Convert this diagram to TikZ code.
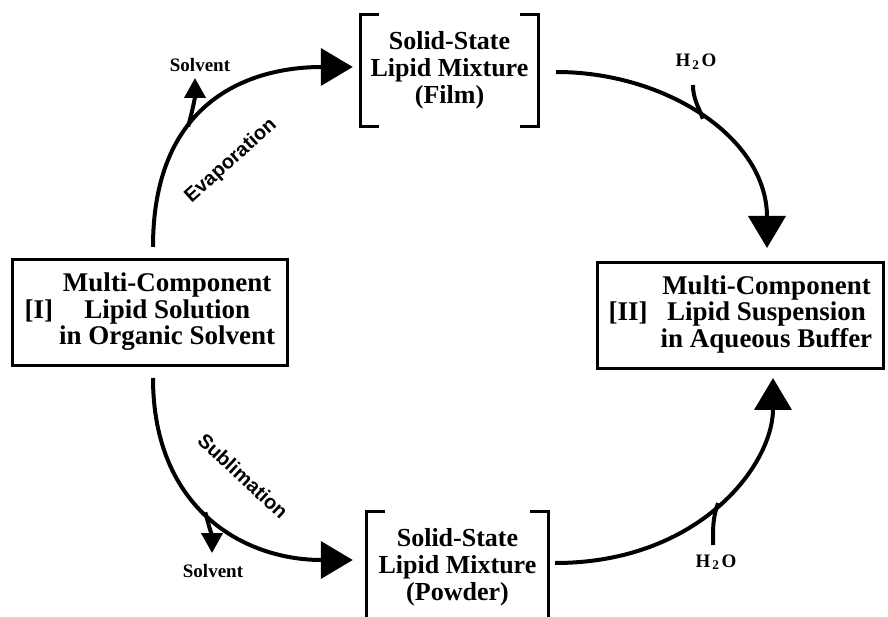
\documentclass[tikz,border=0pt]{standalone}
\usepackage{fontspec}
\setmainfont{Liberation Serif}
\setsansfont{Liberation Sans}
\usetikzlibrary{arrows.meta,positioning}

\tikzset{
  stage/.style={draw, line width=3pt, minimum width=275pt, minimum height=106pt, inner sep=0pt,
    font=\fontsize{27}{25}\selectfont\bfseries},
  mixture/.style={minimum width=177pt, minimum height=111pt, inner sep=0pt, align=center,
    font=\fontsize{26}{27}\selectfont\bfseries},
  bracket/.style={line width=3pt},
  flow/.style={line width=4pt, -{Triangle[length=32pt,width=37pt]}},
  side/.style={line width=4pt, -{Triangle[length=20pt,width=21pt]}},
  feed/.style={line width=4pt},
  small/.style={anchor=base, inner sep=0pt, font=\fontsize{19}{19}\selectfont\bfseries},
  process/.style={inner sep=0pt, font=\fontsize{20}{20}\selectfont\sffamily\bfseries}
}

\begin{document}
\begin{tikzpicture}[x=1pt,y=1pt]
\useasboundingbox (0,0) rectangle (888,616);
%draw the two solutions
\node[stage] (solution) at (150,303.5) {\begin{tabular}{@{}l@{\hspace{6pt}}c@{}}
 & Multi-Component\\ {[I]} & Lipid Solution\\ & in Organic Solvent\end{tabular}};
\node[stage, minimum width=286pt] (suspension) at (740.5,300.5) {\begin{tabular}{@{}l@{\hspace{13pt}}c@{}}
 & Multi-Component\\ {[II]} & Lipid Suspension\\ & in Aqueous Buffer\end{tabular}};
%draw the solid states
\node[mixture] (film) at (449.5,545.5) {Solid-State\\Lipid Mixture\\(Film)};
\node[mixture, minimum width=181pt, minimum height=110pt] (powder) at (457.5,49) {Solid-State\\Lipid Mixture\\(Powder)};
\foreach \n in {film,powder}{
   \draw[bracket] ([xshift=18pt]\n.north west) -| (\n.south west) -- ++(18pt,0);
   \draw[bracket] ([xshift=-18pt]\n.north east) -| (\n.south east) -- ++(-18pt,0);
}
%draw side labels
\node[small] (solvup) at (200,544) {Solvent};
\node[small] (solvdown) at (213,39) {Solvent};
\node[small] (waterfilm) at (696,549) {H\kern2pt\textsubscript{2}\kern2pt O};
\node[small] (waterpowder) at (716,49) {H\kern2pt\textsubscript{2}\kern2pt O};
\node[process, rotate=42] (evaplabel) at (231,455) {Evaporation};
\node[process, rotate=-43] (subllabel) at (243,140) {Sublimation};
%draw main routes
\draw[flow] ([xshift=3pt,yshift=11pt]solution.north) .. controls +(0,152) and +(-96,0) ..
   ([xshift=-8pt,yshift=3.5pt]film.west) coordinate[pos=0.36] (evapfork);
\draw[flow] ([xshift=3pt,yshift=-11pt]solution.south) .. controls +(0,-130) and +(-110,0) ..
   ([xshift=-14pt,yshift=7pt]powder.west) coordinate[pos=0.47] (sublfork);
\draw[flow] ([xshift=18pt,yshift=-1.5pt]film.east) .. controls +(110,0) and +(0,110) ..
   ([xshift=26.5pt,yshift=13pt]suspension.north) coordinate[pos=0.5] (wetfilm);
\draw[flow] ([xshift=7pt,yshift=4pt]powder.east) .. controls +(144,0) and +(0,-87) ..
   ([xshift=32.5pt,yshift=-8pt]suspension.south) coordinate[pos=0.5] (wetpowder);
%draw solvent and water branches
\draw[side] (evapfork) to[out=75,in=-90] ([xshift=-5pt,yshift=-6pt]solvup.base);
\draw[side] (sublfork) to[out=-75,in=90] ([xshift=-1pt,yshift=24pt]solvdown.base);
\draw[feed] ([xshift=-3pt,yshift=-18pt]waterfilm.base) to[out=-90,in=110] (wetfilm);
\draw[feed] ([xshift=-3pt,yshift=22pt]waterpowder.base) to[out=90,in=-110] (wetpowder);
\end{tikzpicture}
\end{document}
